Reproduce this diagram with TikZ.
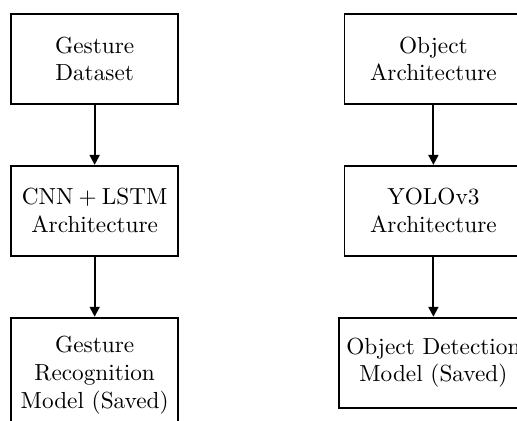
\documentclass[tikz,border=0pt]{standalone}
\usepackage{tikz}
\usetikzlibrary{arrows.meta, positioning}

\begin{document}
\begin{tikzpicture}[
  node distance=25.8pt,
  box/.style={rectangle, draw, thick, minimum width=72pt, minimum height=38.7pt, inner ysep=8pt, align=center},
  widebox/.style={box, minimum width=76.5pt},
  arrow/.style={-{Triangle[length=4.3pt, width=4.3pt]}, thick}
]
  % Frame of the picture (cut at the bottom and right)
  \clip (0,0) rectangle (222.3pt,-181pt);
  \useasboundingbox (0,0) rectangle (222.3pt,-181pt);

  % Gesture chain
  \node[box, anchor=north west] (gdata) at (4.3pt,-5.6pt) {Gesture\\Dataset};
  \node[box, below=of gdata] (cnn) {CNN${}+{}$LSTM\\Architecture};
  \node[box, below=of cnn] (gmodel) {Gesture\\Recognition\\Model (Saved)};

  % Object chain
  \node[widebox, right=70.6pt of gdata] (odata) {Object\\Architecture};
  \node[widebox, below=of odata] (yolo) {YOLOv3\\Architecture};
  \node[widebox, below=of yolo] (omodel) {Object Detection\\Model (Saved)};

  \draw[arrow] (gdata) -- (cnn);
  \draw[arrow] (cnn) -- (gmodel);
  \draw[arrow] (odata) -- (yolo);
  \draw[arrow] (yolo) -- (omodel);
\end{tikzpicture}
\end{document}
